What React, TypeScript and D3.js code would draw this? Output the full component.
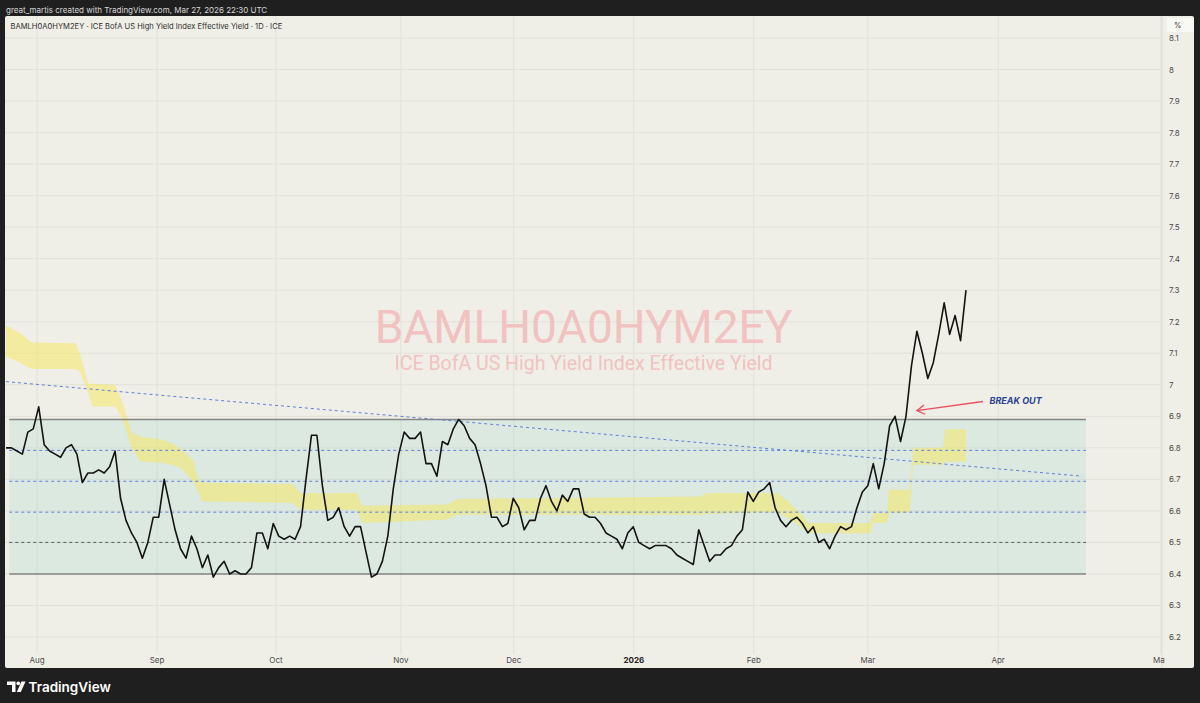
import React from 'react';
import * as d3 from 'd3';

// ---------- DATA ----------
const yieldValues: number[] = [
  6.80, 6.80, 6.79, 6.78, 6.85, 6.86, 6.93, 6.81, 6.79, 6.78,
  6.77, 6.80, 6.81, 6.78, 6.69, 6.72, 6.72, 6.73, 6.72, 6.74,
  6.79, 6.64, 6.57, 6.53, 6.50, 6.45, 6.50, 6.58, 6.58, 6.70,
  6.62, 6.54, 6.48, 6.45, 6.52, 6.48, 6.42, 6.46, 6.39, 6.42,
  6.44, 6.40, 6.41, 6.40, 6.40, 6.42, 6.53, 6.53, 6.48, 6.56,
  6.52, 6.51, 6.52, 6.51, 6.55, 6.70, 6.84, 6.84, 6.68, 6.57,
  6.58, 6.61, 6.55, 6.52, 6.55, 6.55, 6.47, 6.39, 6.40, 6.44,
  6.52, 6.67, 6.78, 6.85, 6.83, 6.83, 6.85, 6.75, 6.75, 6.71,
  6.82, 6.81, 6.86, 6.89, 6.87, 6.83, 6.81, 6.75, 6.68, 6.58,
  6.58, 6.55, 6.56, 6.64, 6.61, 6.54, 6.57, 6.57, 6.64, 6.68,
  6.63, 6.60, 6.65, 6.63, 6.67, 6.67, 6.59, 6.58, 6.58, 6.56,
  6.53, 6.52, 6.51, 6.48, 6.53, 6.55, 6.50, 6.49, 6.48, 6.49,
  6.49, 6.49, 6.48, 6.46, 6.45, 6.44, 6.43, 6.54, 6.49, 6.44,
  6.46, 6.46, 6.48, 6.49, 6.52, 6.54, 6.66, 6.63, 6.66, 6.67,
  6.69, 6.61, 6.57, 6.55, 6.57, 6.58, 6.56, 6.53, 6.55, 6.50,
  6.51, 6.48, 6.52, 6.55, 6.54, 6.55, 6.61, 6.66, 6.68, 6.75,
  6.67, 6.75, 6.87, 6.90, 6.82, 6.90, 7.06, 7.17, 7.10, 7.02,
  7.07, 7.16, 7.26, 7.16, 7.22, 7.14, 7.30,
];

const monthLabels = ['Aug', 'Sep', 'Oct', 'Nov', 'Dec', '2026', 'Feb', 'Mar', 'Apr', 'May'];
const monthIdx = [5.7, 27.7, 49.5, 72.4, 93.1, 115.1, 137.1, 158.0, 181.9, 211.75];

const yTicks = [6.2, 6.3, 6.4, 6.5, 6.6, 6.7, 6.8, 6.9, 7.0, 7.1, 7.2, 7.3, 7.4, 7.5, 7.6, 7.7, 7.8, 7.9, 8.0, 8.1];

// yellow band (step channel) breakpoints
const bandIdx = [0, 2.6, 4.7, 12.8, 13.6, 15.1, 15.8, 20.0, 21.2, 23.0, 24.6, 28.8, 30.7, 32.2, 34.3, 35.3, 35.9, 52.6, 53.9, 64.3, 65.3, 80.8, 82.7, 127.2, 128.5, 141.3, 143.1, 145.6, 147.1, 158.4, 159.0, 161.5, 161.9, 165.7, 166.3, 171.8, 172.2, 176];
const bandTop = [7.187, 7.164, 7.134, 7.132, 7.095, 7.003, 7.003, 7.000, 6.952, 6.850, 6.835, 6.826, 6.813, 6.794, 6.760, 6.699, 6.690, 6.685, 6.657, 6.657, 6.616, 6.620, 6.638, 6.646, 6.657, 6.657, 6.635, 6.593, 6.562, 6.562, 6.593, 6.593, 6.667, 6.667, 6.800, 6.800, 6.859, 6.859];
const bandBot = [7.090, 7.070, 7.050, 7.050, 7.040, 6.975, 6.931, 6.931, 6.900, 6.800, 6.757, 6.752, 6.745, 6.733, 6.694, 6.660, 6.630, 6.625, 6.604, 6.604, 6.562, 6.572, 6.588, 6.588, 6.590, 6.595, 6.580, 6.551, 6.530, 6.528, 6.562, 6.562, 6.593, 6.593, 6.746, 6.746, 6.757, 6.757];

// range box
const boxSpan = [0.6, 198];
const boxTop = 6.89;
const boxBottom = 6.40;
const boxBlueLevels = [6.792, 6.694, 6.596];
const boxGreyLevels = [6.50];

// descending trend line
const trendIdx = [0, 197.3];
const trendVal = [7.01, 6.71];

// break-out annotation (tail -> tip)
const arrowIdx = [179.1, 167.0];
const arrowVal = [6.947, 6.918];
const noteIdx = 180.3;
const noteVal = 6.94;

// ---------- LAYOUT ----------
const W = 1200;
const H = 703;
const PANEL = { x0: 5, x1: 1194, y0: 16, y1: 668 };
const AXIS_X = 1162;
const PLOT_BOTTOM = 652;

export default function App() {
  const x = d3.scaleLinear().domain([0, yieldValues.length - 1]).range([6, 966]);
  const y = d3.scaleLinear().domain([6.2, 8.1]).range([637, 38]);

  const line = d3
    .line<number>()
    .x((_, i) => x(i))
    .y((d) => y(d))
    .curve(d3.curveLinear);

  const band = d3
    .area<number>()
    .x((d) => x(d))
    .y0((_, i) => y(bandBot[i]))
    .y1((_, i) => y(bandTop[i]));

  const font = "'Inter', 'Noto Sans', 'Liberation Sans', sans-serif";

  const ax0 = x(arrowIdx[0]);
  const ay0 = y(arrowVal[0]);
  const ax1 = x(arrowIdx[1]);
  const ay1 = y(arrowVal[1]);
  const ang = Math.atan2(ay0 - ay1, ax0 - ax1);
  const headLen = 9;
  const headSpread = 0.55;
  const h1 = [ax1 + headLen * Math.cos(ang - headSpread), ay1 + headLen * Math.sin(ang - headSpread)];
  const h2 = [ax1 + headLen * Math.cos(ang + headSpread), ay1 + headLen * Math.sin(ang + headSpread)];

  return (
    <svg
      width={W}
      height={H}
      viewBox={`0 0 ${W} ${H}`}
      style={{ position: 'absolute', left: 0, top: 0, display: 'block' }}
    >
      <defs>
        <clipPath id="plotClip">
          <rect x={PANEL.x0} y={PANEL.y0} width={AXIS_X - PANEL.x0} height={PLOT_BOTTOM - PANEL.y0} />
        </clipPath>
        <clipPath id="timeClip">
          <rect x={PANEL.x0} y={PANEL.y0} width={AXIS_X + 3 - PANEL.x0} height={PANEL.y1 - PANEL.y0} />
        </clipPath>
      </defs>

      {/* background */}
      <rect x={0} y={0} width={W} height={H} fill="#1f1f1f" />
      <text x={6} y={12.5} fontFamily={font} fontSize={8} fill="#d6d6d6">
        great_martis created with TradingView.com, Mar 27, 2026 22:30 UTC
      </text>

      {/* panel */}
      <rect x={PANEL.x0} y={PANEL.y0} width={PANEL.x1 - PANEL.x0} height={PANEL.y1 - PANEL.y0} fill="#f0efe7" rx={2} />

      {/* grid */}
      <g clipPath="url(#plotClip)">
        {yTicks.map((t) => (
          <line key={'h' + t} x1={PANEL.x0} x2={AXIS_X} y1={y(t)} y2={y(t)} stroke="#e2e1d8" strokeWidth={1} />
        ))}
      </g>
      {monthIdx.map((m, i) => (
        <line key={'v' + i} x1={x(m)} x2={x(m)} y1={PANEL.y0} y2={PLOT_BOTTOM + 2} stroke="#e2e1d8" strokeWidth={1} />
      ))}

      {/* watermark */}
      <text
        x={(PANEL.x0 + AXIS_X) / 2}
        y={343}
        textAnchor="middle"
        fontFamily="Roboto, 'Noto Sans', sans-serif"
        fontSize={46}
        fill="#f1c2bf"
      >
        BAMLH0A0HYM2EY
      </text>
      <text
        x={(PANEL.x0 + AXIS_X) / 2}
        y={370}
        textAnchor="middle"
        fontFamily="Roboto, 'Noto Sans', sans-serif"
        fontSize={19.5}
        fill="#f1c2bf"
      >
        ICE BofA US High Yield Index Effective Yield
      </text>

      <g clipPath="url(#plotClip)">
        {/* range box */}
        <rect
          x={x(boxSpan[0])}
          y={y(boxTop)}
          width={x(boxSpan[1]) - x(boxSpan[0])}
          height={y(boxBottom) - y(boxTop)}
          fill="rgba(140,210,205,0.2)"
        />

        {/* yellow band */}
        <path d={band(bandIdx) || ''} fill="rgba(246,232,90,0.5)" />

        {/* box levels */}
        {boxBlueLevels.map((v) => (
          <line
            key={'b' + v}
            x1={x(boxSpan[0])}
            x2={x(boxSpan[1])}
            y1={y(v)}
            y2={y(v)}
            stroke="#5d7fdc"
            strokeWidth={1}
            strokeDasharray="3 3"
          />
        ))}
        {boxGreyLevels.map((v) => (
          <line
            key={'g' + v}
            x1={x(boxSpan[0])}
            x2={x(boxSpan[1])}
            y1={y(v)}
            y2={y(v)}
            stroke="#5a5a5a"
            strokeWidth={1}
            strokeDasharray="3 3"
          />
        ))}
        {[boxTop, boxBottom].map((v) => (
          <line
            key={'e' + v}
            x1={x(boxSpan[0])}
            x2={x(boxSpan[1])}
            y1={y(v)}
            y2={y(v)}
            stroke="#858585"
            strokeWidth={1.6}
          />
        ))}

        {/* trend line */}
        <line
          x1={x(trendIdx[0])}
          x2={x(trendIdx[1])}
          y1={y(trendVal[0])}
          y2={y(trendVal[1])}
          stroke="#5d7fdc"
          strokeWidth={1}
          strokeDasharray="3 3"
        />

        {/* series */}
        <path d={line(yieldValues) || ''} fill="none" stroke="#131313" strokeWidth={1.6} strokeLinejoin="round" />

        {/* annotation */}
        <line x1={ax0} y1={ay0} x2={ax1} y2={ay1} stroke="#ee4f5f" strokeWidth={1.3} />
        <polyline
          points={`${h1[0]},${h1[1]} ${ax1},${ay1} ${h2[0]},${h2[1]}`}
          fill="none"
          stroke="#ee4f5f"
          strokeWidth={1.3}
        />
        <text
          x={x(noteIdx)}
          y={y(noteVal)}
          fontFamily={font}
          fontSize={9}
          fontWeight={700}
          fontStyle="italic"
          fill="#2a3f9a"
        >
          BREAK OUT
        </text>
      </g>

      {/* legend */}
      <text x={10.5} y={28.5} fontFamily={font} fontSize={7.6} fill="#2d2d2d">
        BAMLH0A0HYM2EY · ICE BofA US High Yield Index Effective Yield · 1D · ICE
      </text>

      {/* price axis */}
      <line x1={AXIS_X} x2={AXIS_X} y1={PANEL.y0} y2={PANEL.y1} stroke="#dcdbd2" strokeWidth={1} />
      <rect x={1167} y={18} width={27} height={14} fill="#f8f8f4" />
      <text x={1174} y={28} fontFamily={font} fontSize={7.5} fill="#333">
        %
      </text>
      {yTicks.map((t) => (
        <text key={'yl' + t} x={1169} y={y(t) + 3} fontFamily={font} fontSize={8} fill="#4a4a4a">
          {d3.format('~g')(t)}
        </text>
      ))}

      {/* time axis */}
      <g clipPath="url(#timeClip)">
        {monthLabels.map((m, i) => (
          <text
            key={'t' + m}
            x={x(monthIdx[i])}
            y={663}
            textAnchor="middle"
            fontFamily={font}
            fontSize={8}
            fontWeight={m === '2026' ? 700 : 400}
            fill={m === '2026' ? '#222' : '#4a4a4a'}
          >
            {m}
          </text>
        ))}
      </g>

      {/* TradingView logo */}
      <g fill="#ffffff">
        <path d="M7 681.5 H15.5 V692 H12 V685 H7 Z" />
        <circle cx={18.3} cy={683.3} r={1.9} />
        <path d="M21.5 681.5 H25.5 L20.8 692 H16.8 Z" />
        <text x={28.5} y={692} fontFamily="'Inter', 'Noto Sans', sans-serif" fontSize={13.5} fontWeight={600}>
          TradingView
        </text>
      </g>
    </svg>
  );
}
